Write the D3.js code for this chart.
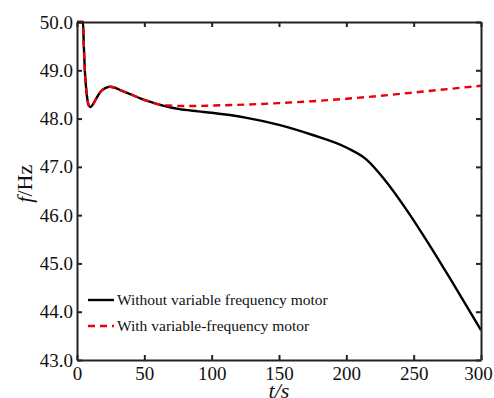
<!DOCTYPE html>
<html>
<head>
<meta charset="utf-8">
<script src="https://cdn.jsdelivr.net/npm/d3@7"></script>
<style>
  body { margin: 0; background: #fff; }
  svg { font-family: "Liberation Serif", "Times New Roman", serif; }
</style>
</head>
<body>
<script>
/** Data */
const tCommon = [0, 4.5, 5, 5.8, 6.8, 7.7, 8.6, 10, 12, 15, 18, 21, 24.5, 28, 33, 40, 47, 54, 61];
const fCommon = [50, 50, 49.55, 49.0, 48.62, 48.4, 48.28, 48.24, 48.3, 48.45, 48.57, 48.63, 48.66, 48.64, 48.58, 48.5, 48.42, 48.35, 48.29];

const tWithout = [68, 75, 90, 100, 125, 150, 175, 200, 215, 228, 245, 262, 280, 300];
const fWithout = [48.24, 48.2, 48.15, 48.12, 48.02, 47.87, 47.66, 47.4, 47.15, 46.75, 46.1, 45.37, 44.55, 43.62];

const tWith = [68, 75, 85, 100, 125, 150, 175, 200, 225, 250, 275, 300];
const fWith = [48.27, 48.26, 48.26, 48.27, 48.29, 48.32, 48.36, 48.41, 48.47, 48.54, 48.61, 48.68];

const xTicks = [0, 50, 100, 150, 200, 250, 300];
const yTicks = [43, 44, 45, 46, 47, 48, 49, 50];
const legendNames = ["Without variable frequency motor", "With variable-frequency motor"];

const width = 494, height = 398;
const margin = { left: 77, right: 13, top: 22, bottom: 38 };

const svg = d3.select("body").append("svg")
  .attr("width", width)
  .attr("height", height);

const x = d3.scaleLinear().domain([0, 300]).range([margin.left, width - margin.right]);
const y = d3.scaleLinear().domain([43, 50]).range([height - margin.bottom, margin.top]);

// series
const withoutData = tCommon.map((t, i) => [t, fCommon[i]])
  .concat(tWithout.map((t, i) => [t, fWithout[i]]));
const withData = tCommon.map((t, i) => [t, fCommon[i]])
  .concat(tWith.map((t, i) => [t, fWith[i]]));

const line = d3.line()
  .x(d => x(d[0]))
  .y(d => y(d[1]))
  .curve(d3.curveMonotoneX);

svg.append("path")
  .attr("d", line(withoutData))
  .attr("fill", "none")
  .attr("stroke", "#000")
  .attr("stroke-width", 2.4);

svg.append("path")
  .attr("d", line(withData))
  .attr("fill", "none")
  .attr("stroke", "#e8000b")
  .attr("stroke-width", 2.4)
  .attr("stroke-dasharray", "7,5");

// axes, ticks inward on all sides
const axisColor = "#222";
const fmt = d3.format(".1f");

const gx = svg.append("g")
  .attr("transform", "translate(0," + y(43) + ")")
  .call(d3.axisBottom(x).tickValues(xTicks).tickSizeInner(-5).tickSizeOuter(0).tickPadding(6.5));
const gy = svg.append("g")
  .attr("transform", "translate(" + x(0) + ",0)")
  .call(d3.axisLeft(y).tickValues(yTicks).tickFormat(fmt).tickSizeInner(-5).tickSizeOuter(0).tickPadding(4));
const gt = svg.append("g")
  .attr("transform", "translate(0," + y(50) + ")")
  .call(d3.axisTop(x).tickValues(xTicks).tickSizeInner(-5).tickSizeOuter(0).tickFormat(""));
const gr = svg.append("g")
  .attr("transform", "translate(" + x(300) + ",0)")
  .call(d3.axisRight(y).tickValues(yTicks).tickSizeInner(-5).tickSizeOuter(0).tickFormat(""));

[gx, gy, gt, gr].forEach(g => {
  g.select(".domain").attr("stroke", axisColor).attr("stroke-width", 2);
  g.selectAll(".tick line").attr("stroke", axisColor).attr("stroke-width", 2);
  g.selectAll(".tick text")
    .attr("fill", "#111")
    .attr("font-size", "19px")
    .attr("font-family", "Liberation Serif, serif");
});
// keep the last x label inside the window
gx.selectAll(".tick text").filter(d => d === 300).attr("dx", -3);

// axis titles
svg.append("text")
  .attr("x", x(150))
  .attr("y", 398)
  .attr("text-anchor", "middle")
  .attr("font-size", "22px")
  .attr("fill", "#111")
  .attr("font-style", "italic")
  .text("t/s");

const yTitle = svg.append("text")
  .attr("transform", "translate(32," + y(46.65) + ") rotate(-90)")
  .attr("text-anchor", "middle")
  .attr("font-size", "22px")
  .attr("fill", "#111");
yTitle.append("tspan").attr("font-style", "italic").text("f");
yTitle.append("tspan").text("/Hz");

// legend
const legend = svg.append("g").attr("transform", "translate(88,300)");
legendNames.forEach((name, i) => {
  const row = legend.append("g").attr("transform", "translate(0," + i * 26 + ")");
  row.append("line")
    .attr("x1", 0).attr("x2", 26)
    .attr("y1", 0).attr("y2", 0)
    .attr("stroke", i === 0 ? "#000" : "#e8000b")
    .attr("stroke-width", 2.4)
    .attr("stroke-dasharray", i === 0 ? null : "7,5");
  row.append("text")
    .attr("x", 29)
    .attr("y", 5)
    .attr("font-size", "15.5px")
    .attr("fill", "#111")
    .text(name);
});
</script>
</body>
</html>
